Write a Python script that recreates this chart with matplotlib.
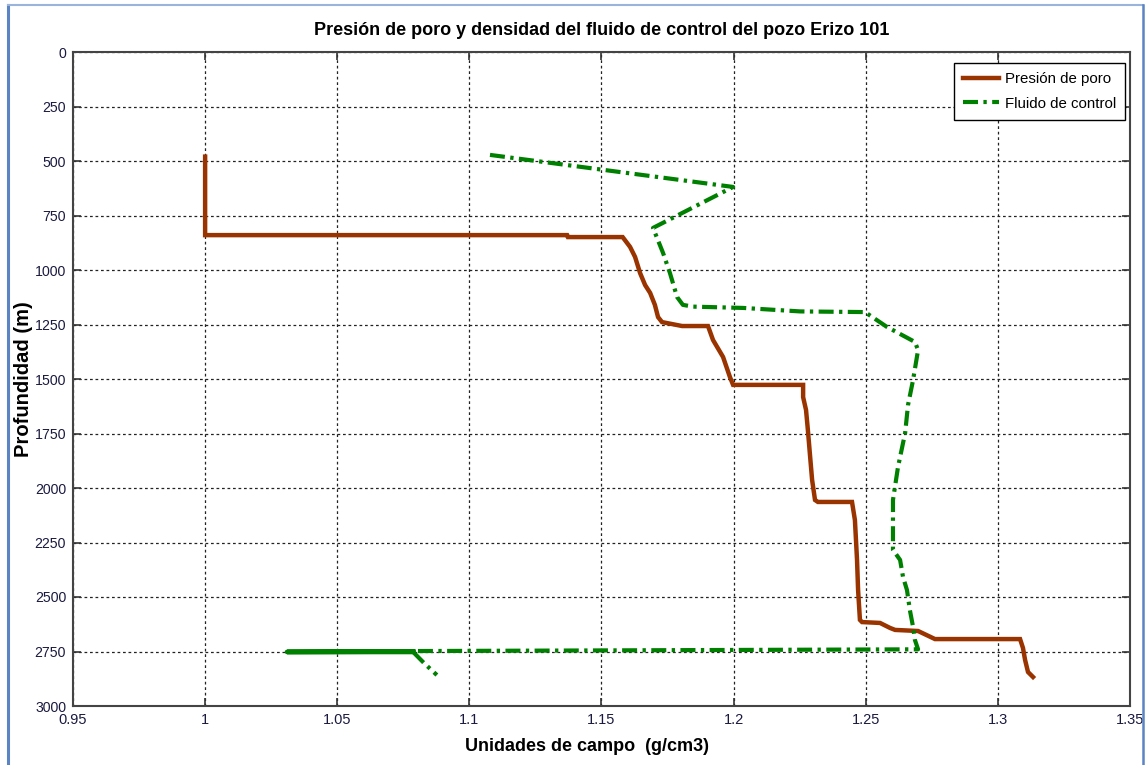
import matplotlib
matplotlib.use("Agg")
import matplotlib.pyplot as plt
from matplotlib.lines import Line2D

# Pore pressure profile (g/cm3 vs depth m)
poro_dens = [1.000, 1.000, 1.137, 1.1373, 1.158, 1.1608, 1.1627, 1.1646, 1.1665, 1.1684,
             1.1702, 1.1714, 1.1729, 1.1805, 1.1903, 1.1922, 1.196, 1.1986, 1.1998,
             1.2263, 1.2263, 1.2274, 1.2281, 1.2289, 1.2297, 1.2308, 1.2319, 1.2448,
             1.2459, 1.2467, 1.2471, 1.2478, 1.2486, 1.2554, 1.2592, 1.2611, 1.2698,
             1.2762, 1.3084, 1.3095, 1.3103, 1.3114, 1.3133]
poro_prof = [480, 840, 840, 849, 849, 894, 940, 1014, 1069, 1105,
             1160, 1216, 1239, 1257, 1257, 1321, 1399, 1491, 1527,
             1527, 1583, 1642, 1734, 1849, 1963, 2055, 2064, 2064,
             2147, 2330, 2468, 2605, 2615, 2619, 2642, 2651, 2656,
             2693, 2693, 2734, 2789, 2844, 2867]

# Control fluid density profile
fluido_dens = [1.1078, 1.1998, 1.1695, 1.1733, 1.1759, 1.1786, 1.1808, 1.1846, 1.2036,
               1.2252, 1.2497, 1.2580, 1.2686, 1.2698, 1.2679, 1.2660, 1.2649, 1.2622,
               1.2603, 1.2603, 1.2630, 1.2641, 1.2656, 1.2667, 1.2679, 1.2686, 1.2698,
               1.0787]
fluido_prof = [472, 619, 807, 922, 1014, 1124, 1160, 1168, 1174,
               1190, 1193, 1261, 1330, 1367, 1505, 1619, 1748, 1904,
               2055, 2284, 2330, 2408, 2468, 2560, 2637, 2697, 2740,
               2748]
# Shallow tail at the bottom of the well
fluido_base_dens = [1.0787, 1.0310, 1.0787]
fluido_base_prof = [2750, 2752, 2752]
fluido_cola_dens = [1.0787, 1.0830, 1.0877]
fluido_cola_prof = [2752, 2805, 2858]

xticks = [0.95, 1.0, 1.05, 1.1, 1.15, 1.2, 1.25, 1.3, 1.35]
xticklabels = ["0.95", "1", "1.05", "1.1", "1.15", "1.2", "1.25", "1.3", "1.35"]
yticks = list(range(0, 3001, 250))

plt.rcParams["font.family"] = ["Liberation Sans", "DejaVu Sans"]

W, H = 1146, 765
fig = plt.figure(figsize=(W / 100, H / 100), dpi=100)
fig.patch.set_facecolor("white")
ax = fig.add_axes([73 / W, 1 - 706 / H, (1130 - 73) / W, (706 - 52) / H])

brown = "#993300"
green = "#008000"
dashdot = (0, (3.6, 1.3, 0.8, 1.3))

ax.plot(poro_dens, poro_prof, color=brown, lw=3.2, solid_joinstyle="miter", zorder=3,
        label="Presión de poro")
ax.plot(fluido_dens, fluido_prof, color=green, lw=3.0, linestyle=dashdot,
        dash_capstyle="butt", zorder=3, label="Fluido de control")
ax.plot(fluido_base_dens, fluido_base_prof, color=green, lw=3.4, zorder=3)
ax.plot(fluido_cola_dens, fluido_cola_prof, color=green, lw=3.0, linestyle=dashdot,
        dash_capstyle="butt", zorder=3)

ax.set_xlim(0.95, 1.35)
ax.set_ylim(3000, 0)
ax.set_xticks(xticks)
ax.set_xticklabels(xticklabels)
ax.set_yticks(yticks)

ax.grid(True, color="#222222", linestyle=(0, (2.2, 2.2)), linewidth=0.9)
ax.tick_params(direction="in", length=6, width=1.2, top=True, right=True,
               labelsize=10.5, colors="#333333", labelcolor="#1a1a40", pad=5)
ax.tick_params(axis="y", labelsize=10.2)
for s in ax.spines.values():
    s.set_color("#444444")
    s.set_linewidth(1.5)

ax.set_title("Presión de poro y densidad del fluido de control del pozo Erizo 101",
             fontsize=13, fontweight="bold", pad=12)
ax.set_xlabel("Unidades de campo  (g/cm3)", fontsize=13, fontweight="bold")
ax.xaxis.set_label_coords((587 - 73) / 1057, -32 / 654)
ax.set_ylabel("Profundidad (m)", fontsize=14.5, fontweight="bold")
ax.yaxis.set_label_coords(-40 / 1057, 0.5)

leg_handles = [Line2D([0], [0], color=brown, lw=3.2),
               Line2D([0], [0], color=green, lw=3.0, linestyle=dashdot, dash_capstyle="butt")]
leg = ax.legend(leg_handles, ["Presión de poro", "Fluido de control"],
                loc="upper right", bbox_to_anchor=((1125 - 73) / 1057, (706 - 63) / 654),
                fontsize=10.8, frameon=True, fancybox=False, framealpha=1,
                edgecolor="black", handlelength=2.4, borderpad=0.6, labelspacing=0.7,
                handletextpad=0.4, borderaxespad=0)
leg.get_frame().set_linewidth(1.0)

# outer frame of the figure
frame_color = "#5b84c4"
fig.add_artist(Line2D([8 / W, 8 / W], [0, 1 - 5 / H], color=frame_color, lw=2.2,
                      transform=fig.transFigure))
fig.add_artist(Line2D([8 / W, 1143 / W], [1 - 5 / H, 1 - 5 / H], color="#9ab4dc", lw=1.5,
                      transform=fig.transFigure))
fig.add_artist(Line2D([1143 / W, 1143 / W], [0, 1 - 5 / H], color=frame_color, lw=1.8,
                      transform=fig.transFigure))

fig.savefig("out.png", dpi=100)
